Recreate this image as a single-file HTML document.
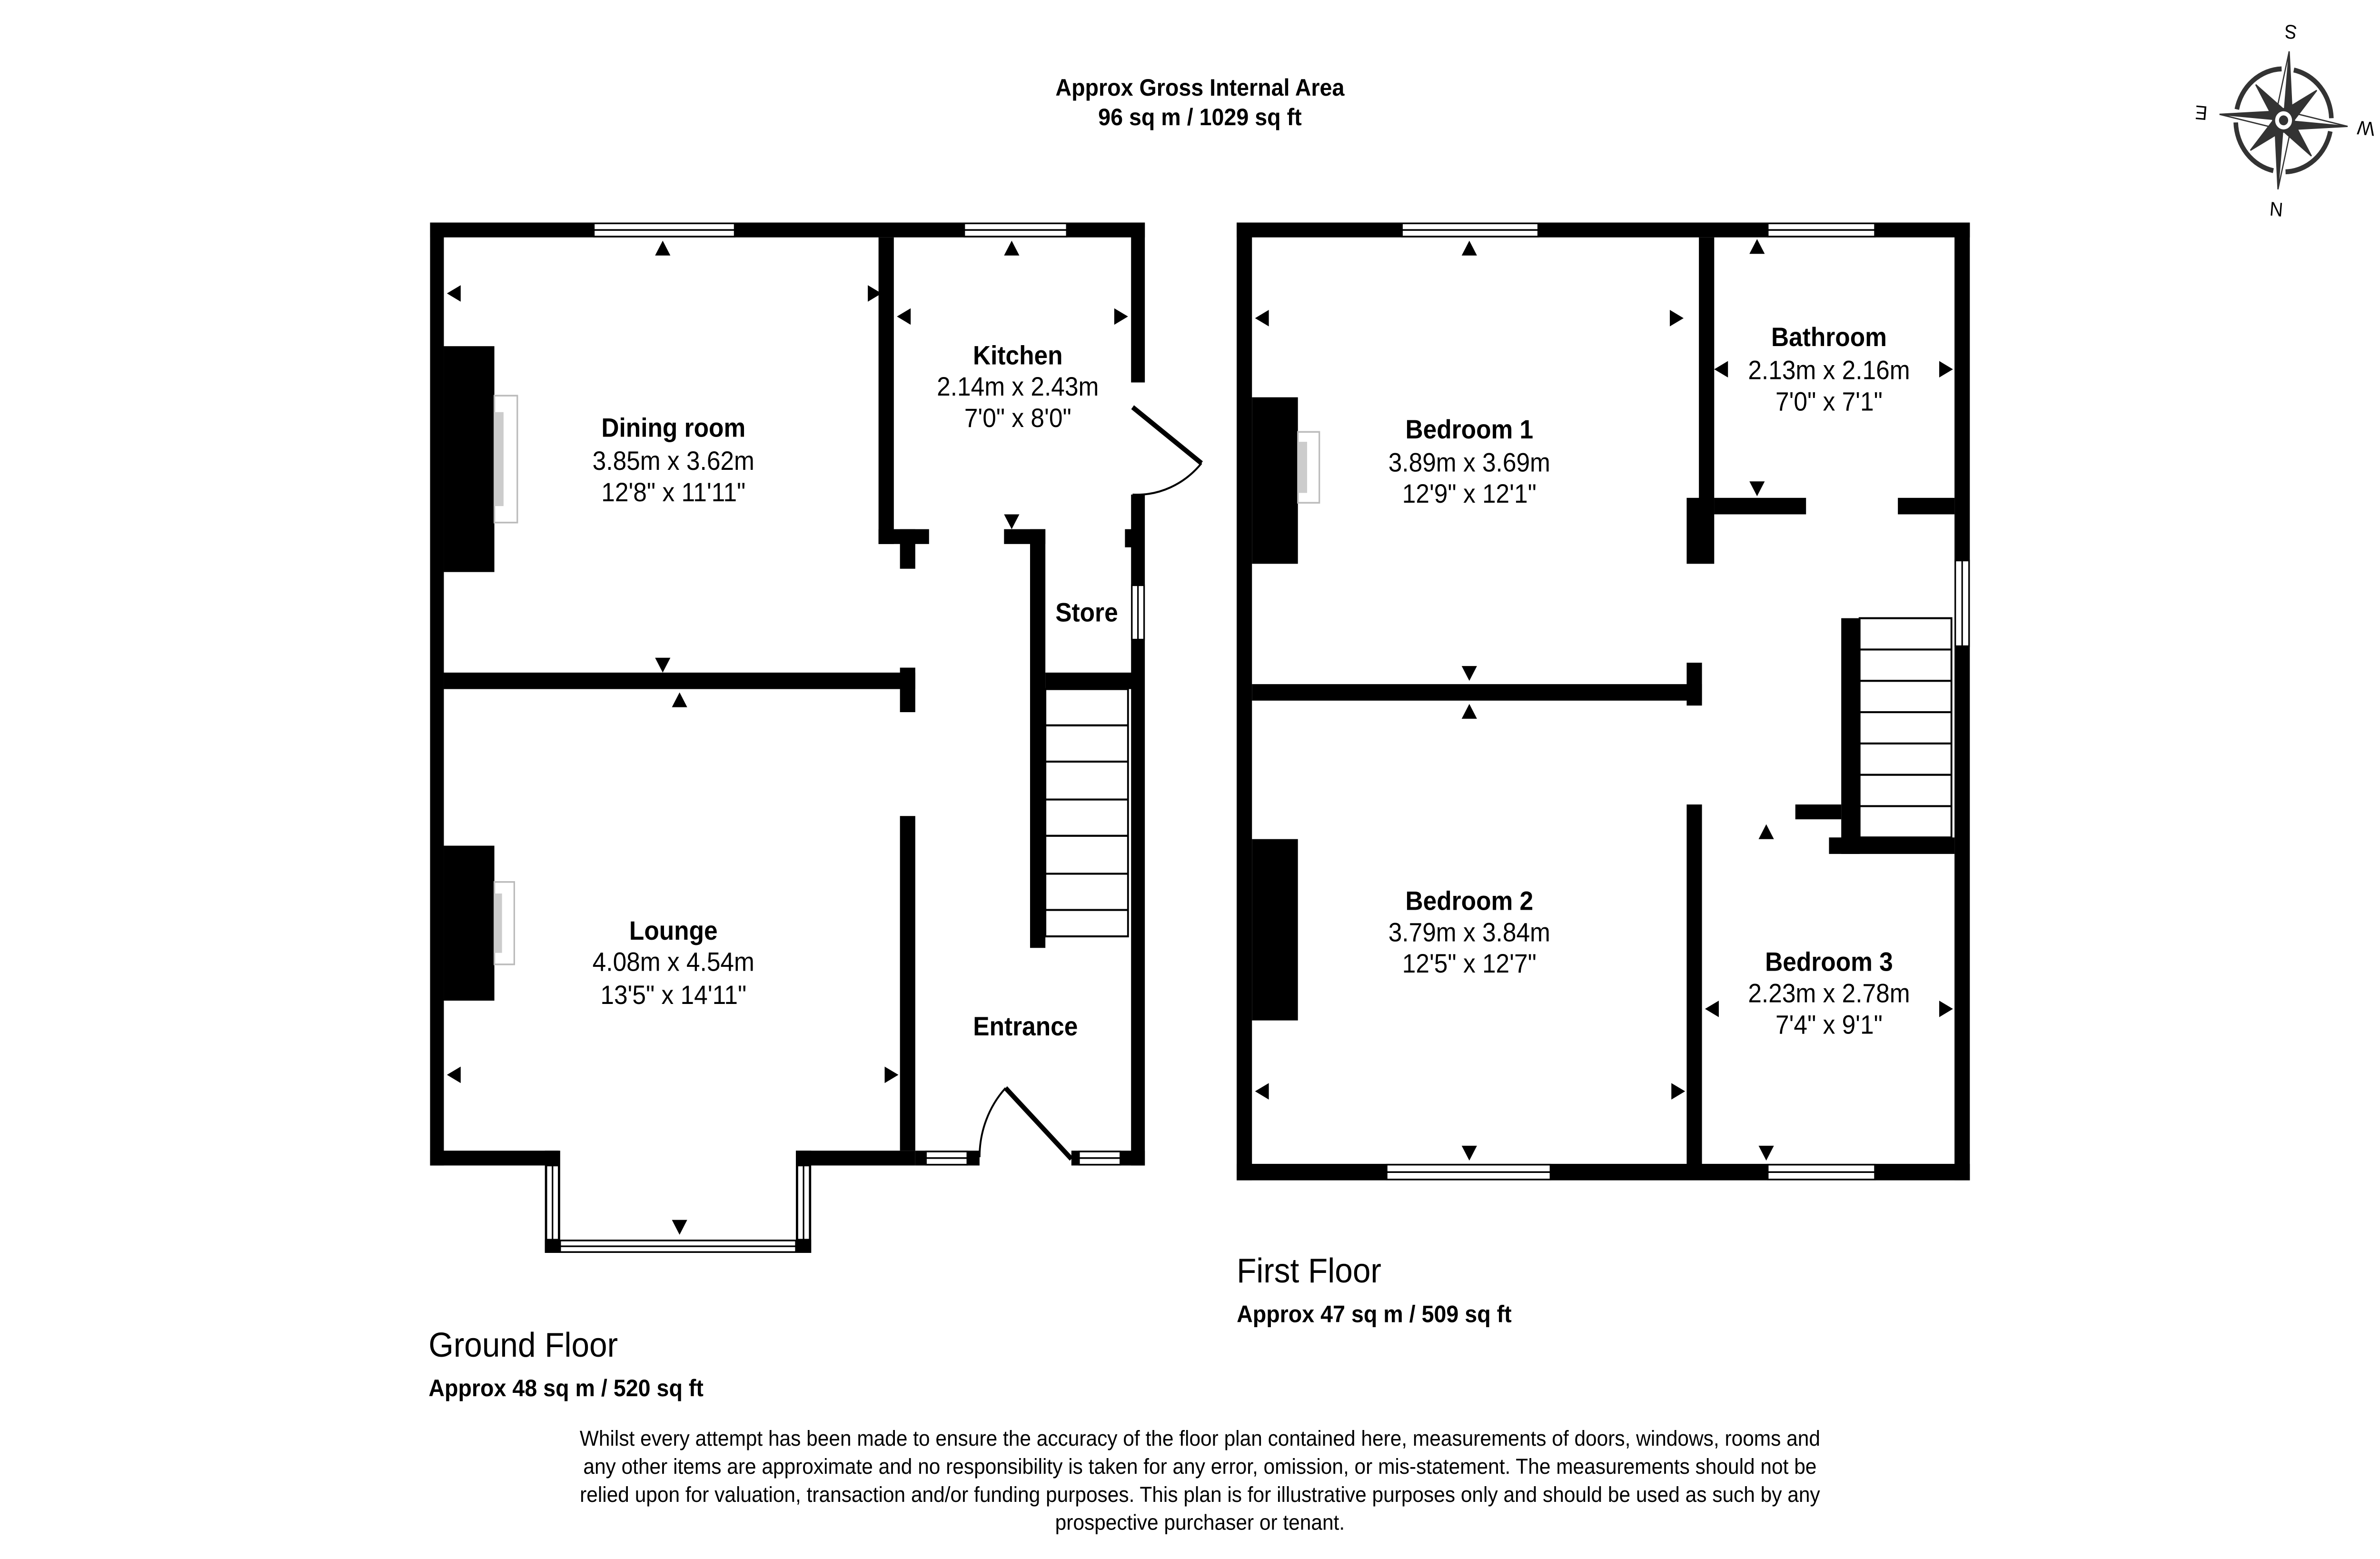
<!DOCTYPE html>
<html><head><meta charset="utf-8"><style>
html,body{margin:0;padding:0;background:#fff;overflow:hidden;width:100%;height:100%}
svg{display:block;width:100vw;height:100vh}
text{font-family:"Liberation Sans",Arial,sans-serif;fill:#000}
</style></head><body>
<svg viewBox="0 0 1555 945.7" preserveAspectRatio="none" xmlns="http://www.w3.org/2000/svg">
<rect width="1555" height="946" fill="#fff"/>
<text x="784" y="58" font-size="14.5" font-weight="bold" text-anchor="middle">Approx Gross Internal Area</text>
<text x="784" y="76" font-size="14.5" font-weight="bold" text-anchor="middle">96 sq m / 1029 sq ft</text>

<g transform="translate(1492,73) rotate(185)">
<g fill="none" stroke="#333" stroke-width="3">
<path d="M4,-31 A31,31 0 0 1 31,-4"/>
<path d="M31,4 A31,31 0 0 1 4,31"/>
<path d="M-4,31 A31,31 0 0 1 -31,4"/>
<path d="M-31,-4 A31,31 0 0 1 -4,-31"/>
</g>
<g fill="#333" stroke="#333" stroke-width="0.8">
<polygon points="0,-42 5,-6 0,0"/>
<polygon points="0,-42 -5,-6 0,0" fill="#fff"/>
<polygon points="0,42 -5,6 0,0"/>
<polygon points="0,42 5,6 0,0" fill="#fff"/>
<polygon points="-42,0 -6,-5 0,0"/>
<polygon points="-42,0 -6,5 0,0" fill="#fff"/>
<polygon points="42,0 6,5 0,0"/>
<polygon points="42,0 6,-5 0,0" fill="#fff"/>
<polygon points="-20,-20 -1,-7 -7,-1"/>
<polygon points="20,-20 1,-7 7,-1"/>
<polygon points="-20,20 -1,7 -7,1"/>
<polygon points="20,20 1,7 7,1"/>
</g>
<circle r="6.5" fill="#fff" stroke="#333" stroke-width="2"/>
<circle r="3" fill="#333"/>
<g font-size="12" text-anchor="middle" style="fill:#333">
<text x="0" y="-50">N</text>
<text x="0" y="58">S</text>
<text x="54" y="4">E</text>
<text x="-54" y="4">W</text>
</g>
</g>

<g fill="#000">
<rect x="281" y="135" width="467" height="9"/>
<rect x="281" y="135" width="9" height="572"/>
<rect x="739" y="135" width="9" height="97"/>
<rect x="739" y="300" width="9" height="407"/>
<rect x="281" y="698" width="84" height="9"/>
<rect x="520" y="698" width="78" height="9"/>
<rect x="598" y="698" width="42" height="9"/>
<rect x="700" y="698" width="48" height="9"/>
<rect x="356" y="698" width="10" height="62"/>
<rect x="520" y="698" width="10" height="62"/>
<rect x="356" y="752" width="174" height="8"/>
<rect x="574" y="144" width="10" height="186"/>
<rect x="574" y="321" width="33" height="9"/>
<rect x="588" y="321" width="10" height="24"/>
<rect x="290" y="408" width="308" height="10"/>
<rect x="588" y="405" width="10" height="27"/>
<rect x="588" y="495" width="10" height="203"/>
<rect x="656" y="321" width="27" height="9"/>
<rect x="673" y="321" width="10" height="254"/>
<rect x="683" y="408" width="57" height="10"/>
<rect x="735" y="321" width="5" height="11"/>
<rect x="290" y="210" width="33" height="137"/>
<rect x="290" y="513" width="33" height="94"/>
</g>
<rect x="323" y="240" width="15" height="77" fill="#fff" stroke="#bbb" stroke-width="1"/>
<rect x="323" y="250" width="6" height="57" fill="#ccc"/>
<rect x="323" y="535" width="13" height="50" fill="#fff" stroke="#bbb" stroke-width="1"/>
<rect x="323" y="542" width="5" height="36" fill="#ccc"/>
<g fill="#fff" stroke="#000" stroke-width="1">
<rect x="388" y="135.5" width="92" height="8"/><line x1="388" y1="139.5" x2="480" y2="139.5"/>
<rect x="630" y="135.5" width="67" height="8"/><line x1="630" y1="139.5" x2="697" y2="139.5"/>
<rect x="739.5" y="355" width="8" height="33"/><line x1="743.5" y1="355" x2="743.5" y2="388"/>
<rect x="366" y="752.5" width="154" height="7"/><line x1="366" y1="756" x2="520" y2="756"/>
<rect x="357" y="707" width="8" height="45"/><line x1="361" y1="707" x2="361" y2="752"/>
<rect x="521" y="707" width="8" height="45"/><line x1="525" y1="707" x2="525" y2="752"/>
<rect x="605" y="698.5" width="27" height="8"/><line x1="605" y1="702.5" x2="632" y2="702.5"/>
<rect x="705" y="698.5" width="27" height="8"/><line x1="705" y1="702.5" x2="732" y2="702.5"/>
</g>
<line x1="740" y1="247" x2="785" y2="281" stroke="#000" stroke-width="3"/>
<path d="M785,281 A56,56 0 0 1 740,300" fill="none" stroke="#000" stroke-width="1.2"/>
<line x1="657" y1="660" x2="700" y2="703" stroke="#000" stroke-width="3"/>
<path d="M657,660 A60,60 0 0 0 640,702" fill="none" stroke="#000" stroke-width="1.2"/>
<g fill="none" stroke="#000" stroke-width="1.2">
<rect x="683" y="418" width="54" height="150"/>
<line x1="683" y1="440" x2="737" y2="440"/><line x1="683" y1="462" x2="737" y2="462"/>
<line x1="683" y1="485" x2="737" y2="485"/><line x1="683" y1="507" x2="737" y2="507"/>
<line x1="683" y1="530" x2="737" y2="530"/><line x1="683" y1="552" x2="737" y2="552"/>
</g>

<g fill="#000">
<rect x="808" y="135" width="479" height="9"/>
<rect x="808" y="135" width="10" height="581"/>
<rect x="1277" y="135" width="10" height="581"/>
<rect x="808" y="706" width="479" height="10"/>
<rect x="1110" y="144" width="10" height="168"/>
<rect x="1102" y="302" width="18" height="40"/>
<rect x="1120" y="302" width="60" height="10"/>
<rect x="1240" y="302" width="37" height="10"/>
<rect x="818" y="415" width="294" height="10"/>
<rect x="1102" y="402" width="10" height="26"/>
<rect x="1102" y="488" width="10" height="220"/>
<rect x="1203" y="375" width="12" height="143"/>
<rect x="1195" y="508" width="82" height="10"/>
<rect x="1173" y="488" width="30" height="9"/>
<rect x="818" y="241" width="30" height="101"/>
<rect x="818" y="509" width="30" height="110"/>
</g>
<rect x="848" y="262" width="14" height="43" fill="#fff" stroke="#bbb" stroke-width="1"/>
<rect x="848" y="268" width="6" height="31" fill="#ccc"/>
<g fill="#fff" stroke="#000" stroke-width="1">
<rect x="916" y="135.5" width="89" height="8"/><line x1="916" y1="139.5" x2="1005" y2="139.5"/>
<rect x="1155" y="135.5" width="70" height="8"/><line x1="1155" y1="139.5" x2="1225" y2="139.5"/>
<rect x="906" y="706.5" width="107" height="9"/><line x1="906" y1="711" x2="1013" y2="711"/>
<rect x="1155" y="706.5" width="70" height="9"/><line x1="1155" y1="711" x2="1225" y2="711"/>
<rect x="1277.5" y="340" width="9" height="52"/><line x1="1282" y1="340" x2="1282" y2="392"/>
</g>
<g fill="none" stroke="#000" stroke-width="1.2">
<rect x="1215" y="375" width="60" height="133"/>
<line x1="1215" y1="394" x2="1275" y2="394"/><line x1="1215" y1="413" x2="1275" y2="413"/>
<line x1="1215" y1="432" x2="1275" y2="432"/><line x1="1215" y1="451" x2="1275" y2="451"/>
<line x1="1215" y1="470" x2="1275" y2="470"/><line x1="1215" y1="489" x2="1275" y2="489"/>
</g>

<g fill="#000">
<polygon points="428,155 438,155 433,146"/>
<polygon points="656,155 666,155 661,146"/>
<polygon points="439,429 449,429 444,420"/>
<polygon points="955,155 965,155 960,146"/>
<polygon points="1143,154 1153,154 1148,145"/>
<polygon points="955,436 965,436 960,427"/>
<polygon points="1149,509 1159,509 1154,500"/>
<polygon points="656,312 666,312 661,321"/>
<polygon points="428,399 438,399 433,408"/>
<polygon points="439,740 449,740 444,749"/>
<polygon points="1143,292 1153,292 1148,301"/>
<polygon points="955,404 965,404 960,413"/>
<polygon points="955,695 965,695 960,704"/>
<polygon points="1149,695 1159,695 1154,704"/>
<polygon points="301,173 301,183 292,178"/>
<polygon points="595,187 595,197 586,192"/>
<polygon points="301,647 301,657 292,652"/>
<polygon points="829,188 829,198 820,193"/>
<polygon points="1129,219 1129,229 1120,224"/>
<polygon points="829,657 829,667 820,662"/>
<polygon points="1123,607 1123,617 1114,612"/>
<polygon points="567,173 567,183 576,178"/>
<polygon points="728,187 728,197 737,192"/>
<polygon points="578,647 578,657 587,652"/>
<polygon points="1091,188 1091,198 1100,193"/>
<polygon points="1267,219 1267,229 1276,224"/>
<polygon points="1092,657 1092,667 1101,662"/>
<polygon points="1267,607 1267,617 1276,612"/>
</g>

<g font-size="16" text-anchor="middle">
<text x="440" y="265" font-weight="bold">Dining room</text>
<text x="440" y="285">3.85m x 3.62m</text>
<text x="440" y="304">12'8" x 11'11"</text>
<text x="665" y="221" font-weight="bold">Kitchen</text>
<text x="665" y="240">2.14m x 2.43m</text>
<text x="665" y="259">7'0" x 8'0"</text>
<text x="710" y="377" font-weight="bold">Store</text>
<text x="440" y="570" font-weight="bold">Lounge</text>
<text x="440" y="589">4.08m x 4.54m</text>
<text x="440" y="609">13'5" x 14'11"</text>
<text x="670" y="628" font-weight="bold">Entrance</text>
<text x="960" y="266" font-weight="bold">Bedroom 1</text>
<text x="960" y="286">3.89m x 3.69m</text>
<text x="960" y="305">12'9" x 12'1"</text>
<text x="1195" y="210" font-weight="bold">Bathroom</text>
<text x="1195" y="230">2.13m x 2.16m</text>
<text x="1195" y="249">7'0" x 7'1"</text>
<text x="960" y="552" font-weight="bold">Bedroom 2</text>
<text x="960" y="571">3.79m x 3.84m</text>
<text x="960" y="590">12'5" x 12'7"</text>
<text x="1195" y="589" font-weight="bold">Bedroom 3</text>
<text x="1195" y="608">2.23m x 2.78m</text>
<text x="1195" y="627">7'4" x 9'1"</text>
</g>

<text x="808" y="778" font-size="21">First Floor</text>
<text x="808" y="802" font-size="14.5" font-weight="bold">Approx 47 sq m / 509 sq ft</text>
<text x="280" y="823" font-size="21">Ground Floor</text>
<text x="280" y="847" font-size="14.5" font-weight="bold">Approx 48 sq m / 520 sq ft</text>

<g font-size="13.2" text-anchor="middle">
<text x="784" y="877">Whilst every attempt has been made to ensure the accuracy of the floor plan contained here, measurements of doors, windows, rooms and</text>
<text x="784" y="894">any other items are approximate and no responsibility is taken for any error, omission, or mis-statement. The measurements should not be</text>
<text x="784" y="911">relied upon for valuation, transaction and/or funding purposes. This plan is for illustrative purposes only and should be used as such by any</text>
<text x="784" y="928">prospective purchaser or tenant.</text>
</g>
</svg>
</body></html>
